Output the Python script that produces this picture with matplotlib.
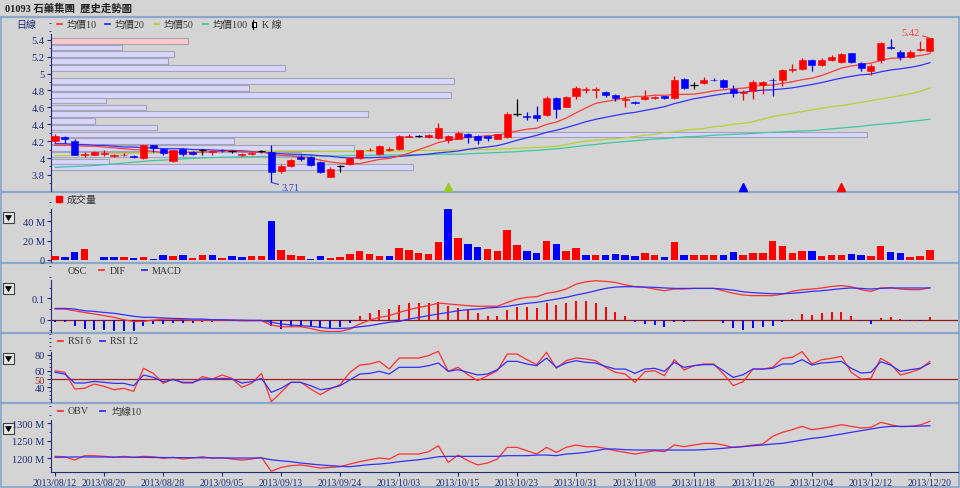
import matplotlib
matplotlib.use("Agg")
import numpy as np
import matplotlib.pyplot as plt
from matplotlib.lines import Line2D
from matplotlib.patches import Rectangle, Polygon
from matplotlib.ticker import AutoMinorLocator

# ---- data (90 trading days, 2013/08/12 - 2013/12/20) ----
tick_labels = ["2013/08/12", "2013/08/20", "2013/08/28", "2013/09/05", "2013/09/13",
               "2013/09/24", "2013/10/03", "2013/10/15", "2013/10/23", "2013/10/31",
               "2013/11/08", "2013/11/18", "2013/11/26", "2013/12/04", "2013/12/12",
               "2013/12/20"]
tick_index = [0] + list(range(5, 90, 6))

opens = [4.20, 4.25, 4.20, 4.03, 4.04, 4.05, 4.02, 4.03, 4.02, 4.00,
         4.15, 4.11, 3.96, 4.11, 4.07, 4.09, 4.07, 4.10, 4.08, 4.04,
         4.05, 4.08, 4.07, 3.85, 3.90, 4.01, 4.01, 3.95, 3.78, 3.90,
         3.93, 4.00, 4.09, 4.05, 4.10, 4.11, 4.25, 4.26, 4.25, 4.24,
         4.21, 4.22, 4.29, 4.26, 4.26, 4.23, 4.25, 4.52, 4.50, 4.51,
         4.51, 4.71, 4.61, 4.73, 4.81, 4.80, 4.78, 4.75, 4.69, 4.66,
         4.70, 4.71, 4.73, 4.71, 4.94, 4.86, 4.89, 4.93, 4.93, 4.82,
         4.77, 4.79, 4.86, 4.93, 4.93, 5.04, 5.05, 5.16, 5.10, 5.16,
         5.14, 5.24, 5.13, 5.03, 5.16, 5.31, 5.26, 5.20, 5.28, 5.27]
highs = [4.29, 4.26, 4.22, 4.07, 4.08, 4.09, 4.05, 4.06, 4.03, 4.16,
         4.16, 4.12, 4.10, 4.12, 4.08, 4.11, 4.09, 4.11, 4.10, 4.06,
         4.07, 4.10, 4.16, 3.93, 3.99, 4.03, 4.02, 3.96, 3.89, 3.92,
         4.01, 4.10, 4.12, 4.15, 4.13, 4.27, 4.28, 4.27, 4.28, 4.42,
         4.27, 4.32, 4.30, 4.27, 4.26, 4.29, 4.54, 4.70, 4.55, 4.62,
         4.73, 4.72, 4.73, 4.85, 4.84, 4.84, 4.79, 4.76, 4.73, 4.67,
         4.80, 4.74, 4.74, 4.97, 4.95, 4.90, 4.96, 4.95, 4.94, 4.86,
         4.80, 4.92, 4.91, 4.95, 5.06, 5.11, 5.18, 5.17, 5.18, 5.22,
         5.25, 5.25, 5.14, 5.11, 5.37, 5.41, 5.28, 5.28, 5.39, 5.42]
lows = [4.18, 4.18, 4.03, 4.01, 4.03, 4.02, 4.01, 4.02, 4.00, 3.99,
        4.07, 4.04, 3.95, 4.02, 4.04, 4.04, 4.03, 4.07, 4.06, 4.02,
        4.03, 4.06, 3.71, 3.82, 3.89, 3.96, 3.90, 3.82, 3.77, 3.83,
        3.92, 3.99, 4.08, 4.04, 4.08, 4.10, 4.25, 4.25, 4.24, 4.23,
        4.18, 4.22, 4.18, 4.17, 4.20, 4.22, 4.24, 4.50, 4.45, 4.44,
        4.50, 4.47, 4.60, 4.70, 4.77, 4.71, 4.72, 4.68, 4.61, 4.64,
        4.69, 4.70, 4.70, 4.70, 4.82, 4.82, 4.88, 4.91, 4.83, 4.72,
        4.69, 4.70, 4.76, 4.74, 4.85, 5.02, 5.04, 5.03, 5.09, 5.15,
        5.12, 5.12, 5.03, 4.98, 5.12, 5.29, 5.16, 5.18, 5.27, 5.26]
closes = [4.26, 4.22, 4.04, 4.05, 4.07, 4.06, 4.03, 4.04, 4.01, 4.15,
          4.12, 4.06, 4.09, 4.05, 4.05, 4.09, 4.08, 4.09, 4.08, 4.05,
          4.06, 4.08, 3.84, 3.90, 3.98, 3.99, 3.92, 3.84, 3.87, 3.90,
          4.00, 4.09, 4.10, 4.14, 4.11, 4.26, 4.26, 4.26, 4.27, 4.35,
          4.26, 4.30, 4.25, 4.21, 4.24, 4.28, 4.52, 4.52, 4.48, 4.47,
          4.71, 4.58, 4.72, 4.83, 4.82, 4.82, 4.75, 4.71, 4.70, 4.65,
          4.72, 4.72, 4.71, 4.92, 4.83, 4.86, 4.92, 4.92, 4.84, 4.77,
          4.78, 4.90, 4.90, 4.92, 5.04, 5.05, 5.16, 5.10, 5.16, 5.20,
          5.23, 5.14, 5.07, 5.09, 5.36, 5.30, 5.20, 5.26, 5.29, 5.42]

ma10 = [4.15, 4.15, 4.15, 4.14, 4.14, 4.13, 4.12, 4.11, 4.10, 4.093,
        4.079, 4.063, 4.068, 4.068, 4.066, 4.069, 4.074, 4.079, 4.086, 4.076,
        4.070, 4.072, 4.047, 4.032, 4.025, 4.015, 3.999, 3.974, 3.953, 3.938,
        3.932, 3.933, 3.959, 3.983, 3.996, 4.023, 4.057, 4.099, 4.139, 4.184,
        4.210, 4.231, 4.246, 4.253, 4.266, 4.268, 4.294, 4.320, 4.341, 4.353,
        4.398, 4.426, 4.473, 4.535, 4.593, 4.647, 4.670, 4.689, 4.711, 4.729,
        4.730, 4.744, 4.743, 4.752, 4.753, 4.757, 4.774, 4.795, 4.809, 4.821,
        4.827, 4.845, 4.864, 4.864, 4.885, 4.904, 4.928, 4.946, 4.978, 5.021,
        5.066, 5.090, 5.107, 5.124, 5.156, 5.181, 5.185, 5.201, 5.214, 5.236]
ma20 = [4.17, 4.17, 4.16, 4.16, 4.15, 4.15, 4.14, 4.13, 4.13, 4.12,
        4.12, 4.11, 4.11, 4.11, 4.10, 4.10, 4.095, 4.09, 4.09, 4.085,
        4.075, 4.068, 4.058, 4.050, 4.046, 4.042, 4.037, 4.027, 4.020, 4.007,
        4.001, 4.003, 4.003, 4.008, 4.011, 4.019, 4.028, 4.037, 4.046, 4.061,
        4.071, 4.082, 4.103, 4.118, 4.131, 4.146, 4.176, 4.210, 4.240, 4.269,
        4.304, 4.329, 4.360, 4.394, 4.430, 4.458, 4.482, 4.505, 4.526, 4.541,
        4.564, 4.585, 4.608, 4.644, 4.673, 4.702, 4.722, 4.742, 4.760, 4.775,
        4.779, 4.795, 4.804, 4.808, 4.819, 4.831, 4.851, 4.871, 4.894, 4.921,
        4.947, 4.968, 4.986, 4.994, 5.021, 5.043, 5.057, 5.074, 5.096, 5.129]
ma50 = [4.03, 4.03, 4.035, 4.04, 4.04, 4.045, 4.05, 4.05, 4.055, 4.06,
        4.06, 4.065, 4.065, 4.07, 4.07, 4.07, 4.075, 4.075, 4.08, 4.08,
        4.08, 4.08, 4.08, 4.085, 4.085, 4.085, 4.085, 4.08, 4.08, 4.08,
        4.08, 4.08, 4.08, 4.08, 4.08, 4.085, 4.085, 4.09, 4.09, 4.09,
        4.095, 4.095, 4.10, 4.10, 4.10, 4.105, 4.11, 4.115, 4.12, 4.125,
        4.13, 4.14, 4.16, 4.18, 4.20, 4.21, 4.22, 4.23, 4.24, 4.255,
        4.27, 4.28, 4.30, 4.31, 4.33, 4.34, 4.35, 4.37, 4.38, 4.40,
        4.41, 4.43, 4.46, 4.49, 4.51, 4.53, 4.55, 4.57, 4.59, 4.61,
        4.62, 4.64, 4.66, 4.68, 4.70, 4.72, 4.74, 4.76, 4.79, 4.83]
ma100 = [3.89, 3.895, 3.90, 3.905, 3.91, 3.92, 3.93, 3.94, 3.95, 3.96,
         3.97, 3.975, 3.98, 3.99, 3.995, 4.00, 4.005, 4.01, 4.01, 4.015,
         4.015, 4.02, 4.02, 4.025, 4.025, 4.025, 4.025, 4.025, 4.025, 4.025,
         4.03, 4.03, 4.03, 4.035, 4.035, 4.035, 4.04, 4.04, 4.04, 4.045,
         4.045, 4.045, 4.05, 4.055, 4.06, 4.065, 4.07, 4.075, 4.085, 4.09,
         4.10, 4.11, 4.12, 4.135, 4.15, 4.16, 4.175, 4.185, 4.195, 4.205,
         4.215, 4.225, 4.23, 4.24, 4.25, 4.255, 4.26, 4.27, 4.275, 4.28,
         4.285, 4.29, 4.30, 4.305, 4.31, 4.315, 4.32, 4.325, 4.335, 4.345,
         4.355, 4.365, 4.375, 4.39, 4.40, 4.41, 4.42, 4.435, 4.445, 4.46]

# volume at price (M shares) for the left-hand price histogram
profile_price = [5.39, 5.31, 5.23, 5.15, 5.07, 4.99, 4.91, 4.83, 4.75, 4.68,
                 4.60, 4.52, 4.44, 4.36, 4.28, 4.20, 4.12, 4.04, 3.96, 3.89]
profile_vol = [24.7, 12.8, 22.1, 21.1, 42.1, 0.0, 72.5, 35.6, 72.0, 9.9,
               17.1, 57.1, 7.9, 19.1, 146.9, 32.9, 54.5, 45.0, 10.4, 65.2]

# signal arrows under the candles
signal_index = [40, 70, 80]
signal_kind = ["green", "blue", "red"]

volume = [3.5, 2.8, 8.0, 11.5, 0.0, 2.8, 2.8, 2.8, 2.1, 2.8,
          1.0, 5.2, 3.5, 4.5, 2.1, 5.2, 4.5, 2.1, 3.5, 2.8,
          3.8, 3.8, 40.3, 10.4, 5.2, 3.5, 1.0, 3.5, 2.1, 2.8,
          6.2, 9.0, 6.2, 3.5, 3.5, 12.2, 9.7, 7.3, 6.2, 18.4,
          52.4, 22.6, 16.7, 13.2, 11.5, 9.0, 31.2, 15.6, 9.0, 7.3,
          19.1, 16.7, 9.0, 12.2, 4.5, 5.2, 4.5, 6.2, 5.2, 3.5,
          7.3, 4.5, 2.8, 18.4, 5.2, 5.2, 5.2, 5.2, 5.2, 8.0,
          5.2, 7.3, 7.3, 19.1, 13.9, 6.9, 8.7, 9.4, 3.5, 5.2,
          4.5, 5.9, 4.5, 3.5, 13.9, 8.0, 7.3, 2.8, 3.5, 9.7]

osc = [-0.012, -0.009, -0.031, -0.044, -0.047, -0.049, -0.052, -0.052, -0.052, -0.031,
       -0.020, -0.020, -0.017, -0.017, -0.017, -0.012, -0.009, -0.003, -0.002, -0.003,
       -0.003, -0.002, -0.031, -0.044, -0.036, -0.036, -0.033, -0.041, -0.041, -0.033,
       -0.017, 0.016, 0.031, 0.047, 0.050, 0.069, 0.078, 0.078, 0.078, 0.085,
       0.066, 0.055, 0.047, 0.031, 0.019, 0.016, 0.045, 0.061, 0.061, 0.053,
       0.077, 0.069, 0.077, 0.086, 0.086, 0.078, 0.061, 0.038, 0.019, -0.012,
       -0.020, -0.023, -0.033, -0.012, -0.012, -0.008, -0.002, -0.002, -0.017, -0.039,
       -0.047, -0.039, -0.033, -0.028, -0.012, 0.003, 0.027, 0.022, 0.030, 0.034,
       0.034, 0.019, -0.008, -0.020, 0.008, 0.011, 0.002, -0.008, -0.008, 0.011]
dif = [0.050, 0.050, 0.042, 0.034, 0.027, 0.019, 0.011, 0.000, -0.009, -0.008,
       -0.002, 0.003, 0.003, 0.000, -0.002, -0.002, -0.002, -0.002, -0.002, -0.005,
       -0.005, -0.005, -0.025, -0.033, -0.033, -0.033, -0.041, -0.052, -0.056, -0.055,
       -0.044, -0.020, -0.002, 0.011, 0.019, 0.034, 0.047, 0.058, 0.066, 0.078,
       0.074, 0.070, 0.066, 0.063, 0.063, 0.063, 0.081, 0.097, 0.105, 0.108,
       0.124, 0.131, 0.144, 0.167, 0.178, 0.183, 0.180, 0.175, 0.164, 0.155,
       0.152, 0.144, 0.136, 0.144, 0.144, 0.147, 0.147, 0.147, 0.136, 0.124,
       0.116, 0.113, 0.113, 0.113, 0.120, 0.133, 0.141, 0.144, 0.149, 0.156,
       0.160, 0.155, 0.141, 0.133, 0.149, 0.150, 0.144, 0.141, 0.141, 0.150]
macd = [0.053, 0.053, 0.050, 0.042, 0.039, 0.034, 0.030, 0.023, 0.016, 0.011,
        0.011, 0.008, 0.006, 0.005, 0.003, 0.003, 0.000, 0.000, -0.002, -0.002,
        -0.003, -0.003, -0.012, -0.020, -0.025, -0.028, -0.031, -0.036, -0.041, -0.041,
        -0.039, -0.033, -0.028, -0.020, -0.012, -0.008, 0.003, 0.011, 0.019, 0.027,
        0.034, 0.042, 0.047, 0.050, 0.055, 0.058, 0.063, 0.070, 0.077, 0.081,
        0.089, 0.097, 0.105, 0.116, 0.125, 0.136, 0.147, 0.153, 0.155, 0.155,
        0.153, 0.152, 0.149, 0.147, 0.147, 0.147, 0.147, 0.147, 0.144, 0.139,
        0.131, 0.127, 0.124, 0.122, 0.122, 0.124, 0.128, 0.133, 0.136, 0.141,
        0.146, 0.149, 0.147, 0.144, 0.147, 0.149, 0.149, 0.149, 0.149, 0.149]

rsi6 = [60.0, 58.2, 37.8, 38.6, 43.9, 41.0, 36.9, 38.6, 34.9, 63.1,
        56.9, 44.7, 50.0, 45.1, 45.1, 52.9, 50.0, 54.9, 50.8, 39.8,
        44.7, 56.9, 22.2, 33.7, 45.9, 45.9, 37.8, 30.8, 37.8, 43.1,
        58.2, 67.1, 68.4, 71.6, 62.2, 75.7, 75.7, 75.7, 78.6, 83.9,
        59.4, 64.3, 55.3, 48.0, 54.1, 60.2, 80.6, 80.6, 73.7, 67.6,
        82.7, 63.1, 72.4, 75.7, 74.5, 72.4, 64.3, 58.2, 56.1, 45.9,
        59.0, 60.2, 54.1, 73.7, 61.0, 66.3, 68.4, 68.4, 56.1, 41.8,
        46.7, 62.2, 62.2, 64.3, 75.3, 76.5, 83.5, 68.4, 73.7, 75.3,
        77.8, 58.2, 50.0, 50.8, 75.3, 68.4, 54.9, 58.2, 62.2, 71.6]
rsi12 = [58.2, 56.1, 45.1, 45.1, 47.1, 45.9, 44.7, 44.7, 41.8, 54.9,
         52.0, 46.7, 49.2, 45.9, 45.9, 50.0, 50.0, 50.8, 50.0, 45.1,
         46.7, 50.8, 33.7, 38.6, 45.9, 45.9, 41.8, 36.9, 38.6, 41.8,
         48.8, 56.1, 56.9, 59.4, 56.1, 64.3, 64.3, 64.3, 66.3, 69.6,
         59.4, 61.4, 58.2, 54.9, 56.1, 61.4, 71.6, 71.6, 68.4, 66.3,
         75.7, 64.3, 69.6, 72.4, 70.4, 69.6, 65.5, 62.2, 62.2, 56.9,
         62.2, 63.1, 59.4, 70.4, 64.3, 66.3, 67.6, 67.6, 60.2, 52.0,
         55.3, 62.2, 62.2, 63.1, 68.4, 68.4, 73.7, 67.1, 69.6, 70.4,
         71.6, 63.1, 57.3, 58.2, 71.2, 67.1, 59.4, 61.4, 63.1, 69.2]

obv = [1204.8, 1203.8, 1194.0, 1206.7, 1206.7, 1204.8, 1202.0, 1204.8, 1202.0, 1204.8,
       1203.8, 1199.0, 1202.0, 1197.0, 1200.0, 1203.8, 1199.0, 1201.0, 1197.0, 1194.0,
       1197.0, 1202.0, 1161.6, 1173.0, 1178.0, 1180.0, 1176.0, 1171.0, 1173.0, 1175.0,
       1182.7, 1189.4, 1195.0, 1200.0, 1197.0, 1211.5, 1211.5, 1211.5, 1218.2, 1235.5,
       1187.5, 1208.6, 1192.3, 1180.0, 1185.6, 1197.0, 1230.7, 1230.7, 1221.0, 1211.5,
       1230.7, 1216.0, 1230.7, 1237.4, 1232.6, 1232.6, 1227.8, 1221.0, 1216.3, 1211.5,
       1216.3, 1221.0, 1218.2, 1237.4, 1232.6, 1237.4, 1242.0, 1242.0, 1237.4, 1230.7,
       1233.6, 1237.4, 1240.3, 1262.4, 1274.0, 1281.6, 1291.2, 1281.6, 1285.4, 1290.0,
       1296.0, 1291.2, 1286.4, 1288.3, 1302.7, 1296.0, 1290.0, 1291.2, 1295.0, 1305.6]
obv_ma10 = [1202.0, 1202.5, 1203.0, 1203.0, 1203.0, 1203.0, 1202.5, 1202.5, 1202.0, 1202.0,
            1201.5, 1201.5, 1201.0, 1201.0, 1201.0, 1200.5, 1200.5, 1200.0, 1200.0, 1200.0,
            1200.0, 1200.0, 1195.0, 1192.0, 1189.4, 1185.6, 1182.7, 1180.0, 1178.0, 1176.0,
            1175.0, 1178.0, 1181.0, 1182.7, 1185.6, 1189.4, 1192.3, 1195.0, 1199.0, 1203.8,
            1204.8, 1204.8, 1204.8, 1204.8, 1204.8, 1204.8, 1206.7, 1206.7, 1206.7, 1208.6,
            1208.6, 1206.7, 1211.5, 1213.4, 1216.3, 1221.0, 1226.0, 1226.0, 1224.0, 1223.0,
            1223.0, 1223.0, 1223.0, 1223.0, 1223.0, 1223.0, 1224.0, 1226.0, 1228.0, 1230.7,
            1232.6, 1235.5, 1237.4, 1240.3, 1242.2, 1247.0, 1251.8, 1256.6, 1259.5, 1264.3,
            1269.0, 1274.0, 1278.7, 1283.5, 1288.3, 1291.2, 1291.2, 1291.2, 1292.0, 1293.0]

# ---- styling ----
W, H = 960, 489
BG = "#d4d4d4"
NAVY = "#1c2c78"
SEP = "#8aa6c8"
RED = "#ff0000"
BLUE = "#0000ff"
TXT = "#333333"
FONT = ["Liberation Serif", "Noto Sans CJK TC", "DejaVu Sans"]
plt.rcParams["font.family"] = FONT

LEFT, RIGHT = 51, 958
XLIM = (-0.41, 91.86)

fig = plt.figure(figsize=(W / 100, H / 100), dpi=100, facecolor=BG)


def fx(px):
    return px / W


def fy(py):
    return 1 - py / H


def panel(top, bottom, ylim, spine_top, zorder=2):
    ax = fig.add_axes([fx(LEFT), fy(bottom), fx(RIGHT - LEFT), (bottom - top) / H],
                      zorder=zorder)
    ax.set_facecolor("none")
    ax.set_xlim(*XLIM)
    ax.set_ylim(*ylim)
    for s in ("top", "right", "bottom"):
        ax.spines[s].set_visible(False)
    ax.spines["left"].set_color(NAVY)
    ax.spines["left"].set_bounds(ylim[0], spine_top)
    ax.tick_params(axis="y", colors=NAVY, labelsize=7.5, length=3, pad=1.5, width=0.8)
    ax.tick_params(axis="y", which="minor", colors=NAVY, length=1.5, width=0.6)
    ax.set_xticks([])
    return ax


def dash(x, y, color):
    fig.add_artist(Line2D([fx(x), fx(x + 5)], [fy(y), fy(y)], color=color, lw=1.3))


def label(x, y, s, color=TXT, size=7.2):
    fig.text(fx(x), fy(y), s, fontsize=size, color=color, va="center", ha="left")


def button(top):
    fig.add_artist(Rectangle((fx(3), fy(top + 11)), 11 / W, 11 / H, transform=fig.transFigure,
                             facecolor="#e6e6e6", edgecolor="#404040", lw=0.8))
    tri = [(fx(5.5), fy(top + 3.5)), (fx(11.5), fy(top + 3.5)), (fx(8.5), fy(top + 8.5))]
    fig.add_artist(Polygon(tri, closed=True, transform=fig.transFigure,
                           facecolor="black", edgecolor="black", lw=0.5))


o = np.array(opens)
h = np.array(highs)
l = np.array(lows)
c = np.array(closes)
x = np.arange(len(c))

# frame and panel separators
fig.add_artist(Rectangle((fx(0.5), fy(488)), fx(958), (488 - 18) / H, transform=fig.transFigure,
                         fill=False, edgecolor=SEP, lw=1.2))
for yy in (18, 193, 264, 334, 404):
    fig.add_artist(Line2D([fx(0), fx(958.5)], [fy(yy), fy(yy)], color=SEP, lw=1.6))

fig.text(fx(5), fy(8), "01093 石藥集團  歷史走勢圖", fontsize=7.5, weight="bold",
         color="#202020", va="center", ha="left")

# ---- price panel ----
price_lim = (3.609, 5.659)
ax_prof = fig.add_axes([fx(LEFT), fy(192), fx(RIGHT - LEFT), (192 - 19) / H], zorder=1)
ax_prof.set_facecolor("none")
ax_prof.axis("off")
ax_prof.set_ylim(*price_lim)
pv = np.array(profile_vol)
ax_prof.set_xlim(0, pv.max() / 0.9)
bin_cols = ["#ffc8c8" if abs(p - c[-1]) < 0.04 else "#d6d6ff" for p in profile_price]
ax_prof.barh(profile_price, pv, height=0.068, left=0, color=bin_cols,
             edgecolor="#a4a4b4", lw=0.8)

ax_p = panel(19, 192, price_lim, 5.469)
ax_p.set_yticks([3.8, 4.0, 4.2, 4.4, 4.6, 4.8, 5.0, 5.2, 5.4])
ax_p.set_yticklabels(["3.8", "4", "4.2", "4.4", "4.6", "4.8", "5", "5.2", "5.4"])
ax_p.yaxis.set_minor_locator(AutoMinorLocator(2))

ax_p.plot(x, ma100, color="#3cc8a0", lw=0.9, zorder=2)
ax_p.plot(x, ma50, color="#b4d232", lw=0.9, zorder=2)
ax_p.plot(x, ma20, color="#3232ff", lw=0.9, zorder=2)
ax_p.plot(x, ma10, color="#ff3c3c", lw=0.9, zorder=2)

flat = np.isclose(c, o)
cols = np.where(flat, "black", np.where(c > o, RED, BLUE))
ax_p.vlines(x, l, h, colors=cols, lw=0.9, zorder=3)
ax_p.bar(x[~flat], np.abs(c - o)[~flat], bottom=np.minimum(o, c)[~flat], width=0.72,
         color=cols[~flat], edgecolor=cols[~flat], lw=0.4, zorder=4)
ax_p.hlines(c[flat], x[flat] - 0.36, x[flat] + 0.36, colors="black", lw=0.9, zorder=4)

lo_i, hi_i = int(l.argmin()), int(h.argmax())
ax_p.annotate(f"{l[lo_i]:.2f}", xy=(lo_i, l[lo_i]), xytext=(10, -5), textcoords="offset pixels",
              color="#3c3cd8", fontsize=7.5, ha="left", va="center",
              arrowprops=dict(arrowstyle="-", color="#3c3cd8", lw=0.8, shrinkA=0, shrinkB=0))
ax_p.annotate(f"{h[hi_i]:.2f}", xy=(hi_i, h[hi_i]), xytext=(-10, 6), textcoords="offset pixels",
              color="#ff4040", fontsize=7.5, ha="right", va="center",
              arrowprops=dict(arrowstyle="-", color="#ff4040", lw=0.8, shrinkA=0, shrinkB=0))

sig_colors = {"green": "#99cc22", "blue": BLUE, "red": RED}
for si, kind in zip(signal_index, signal_kind):
    ax_p.plot(si, 3.655, marker="^", ms=6, color=sig_colors[kind], mec=sig_colors[kind],
              zorder=5, clip_on=False)

label(16, 25, "日線", color=NAVY)
dash(57, 25, "#ff3c3c"); label(67, 25, "均價10")
dash(105, 25, "#3232ff"); label(115, 25, "均價20")
dash(154, 25, "#b4d232"); label(164, 25, "均價50")
dash(203, 25, "#3cc8a0"); label(213, 25, "均價100")
fig.add_artist(Line2D([fx(253.5), fx(253.5)], [fy(20.5), fy(29.5)], color="black", lw=0.8))
fig.add_artist(Rectangle((fx(251.5), fy(27.5)), 4 / W, 5 / H, transform=fig.transFigure,
                         facecolor="white", edgecolor="black", lw=0.8))
label(262, 25, "K 線")

# ---- volume panel ----
ax_v = panel(194, 263, (-2.4, 69.5), 52.8)
ax_v.set_yticks([0, 20, 40])
ax_v.set_yticklabels(["0", "20 M", "40 M"])
ax_v.yaxis.set_minor_locator(AutoMinorLocator(2))
vol_up = np.r_[c[0] >= o[0], c[1:] >= c[:-1] - 1e-9]
ax_v.bar(x, volume, width=0.76, color=np.where(vol_up, RED, BLUE), zorder=3)
fig.add_artist(Rectangle((fx(56), fy(203)), 6 / W, 6 / H, transform=fig.transFigure,
                         facecolor=RED, edgecolor=RED))
label(67, 200, "成交量")
button(213)

# ---- MACD panel ----
ax_m = panel(265, 333, (-0.0577, 0.2615), 0.186)
ax_m.set_yticks([0, 0.1])
ax_m.set_yticklabels(["0", "0.1"])
ax_m.yaxis.set_minor_locator(AutoMinorLocator(2))
oa = np.array(osc)
ax_m.axhline(0, color="#8b1a1a", lw=0.9, zorder=2)
ax_m.vlines(x, 0, oa, colors=np.where(oa >= 0, RED, BLUE), lw=1.4, zorder=3)
ax_m.plot(x, dif, color="#ff3030", lw=0.9, zorder=4)
ax_m.plot(x, macd, color="#3030ff", lw=0.9, zorder=4)
label(68, 271, "OSC")
dash(99, 271, "#ff3030"); label(110, 271, "DIF")
dash(142, 271, "#3030ff"); label(152, 271, "MACD")
button(284)

# ---- RSI panel ----
ax_r = panel(335, 403, (21.85, 105.1), 83.0)
ax_r.set_yticks([40, 50, 60, 80])
ax_r.set_yticklabels(["40", "50", "60", "80"])
ax_r.get_yticklabels()[1].set_color("#a02020")
ax_r.yaxis.set_minor_locator(AutoMinorLocator(2))
ax_r.axhline(50, color="#a02020", lw=0.9, zorder=2)
ax_r.plot(x, rsi6, color="#ff3030", lw=0.9, zorder=3)
ax_r.plot(x, rsi12, color="#3030ff", lw=0.9, zorder=3)
dash(58, 342, "#ff3030"); label(68, 342, "RSI 6")
dash(100, 342, "#3030ff"); label(110, 342, "RSI 12")
button(354)

# ---- OBV panel ----
ax_o = panel(405, 473, (1159.7, 1355.6), 1309.5)
ax_o.set_yticks([1200, 1250, 1300])
ax_o.set_yticklabels(["1200 M", "1250 M", "1300 M"])
ax_o.yaxis.set_minor_locator(AutoMinorLocator(2))
ax_o.plot(x, obv, color="#ff3030", lw=0.9, zorder=3)
ax_o.plot(x, obv_ma10, color="#3030ff", lw=0.9, zorder=3)
ax_o.spines["bottom"].set_visible(True)
ax_o.spines["bottom"].set_color(NAVY)
ax_o.set_xticks(tick_index)
ax_o.set_xticklabels(tick_labels)
ax_o.tick_params(axis="x", colors=NAVY, labelsize=7, length=3, pad=1.5, width=0.8)
dash(58, 412, "#ff3030"); label(68, 412, "OBV")
dash(100, 412, "#3030ff"); label(112, 412, "均線10")
button(424)

fig.savefig("out.png", dpi=100, facecolor=BG)
